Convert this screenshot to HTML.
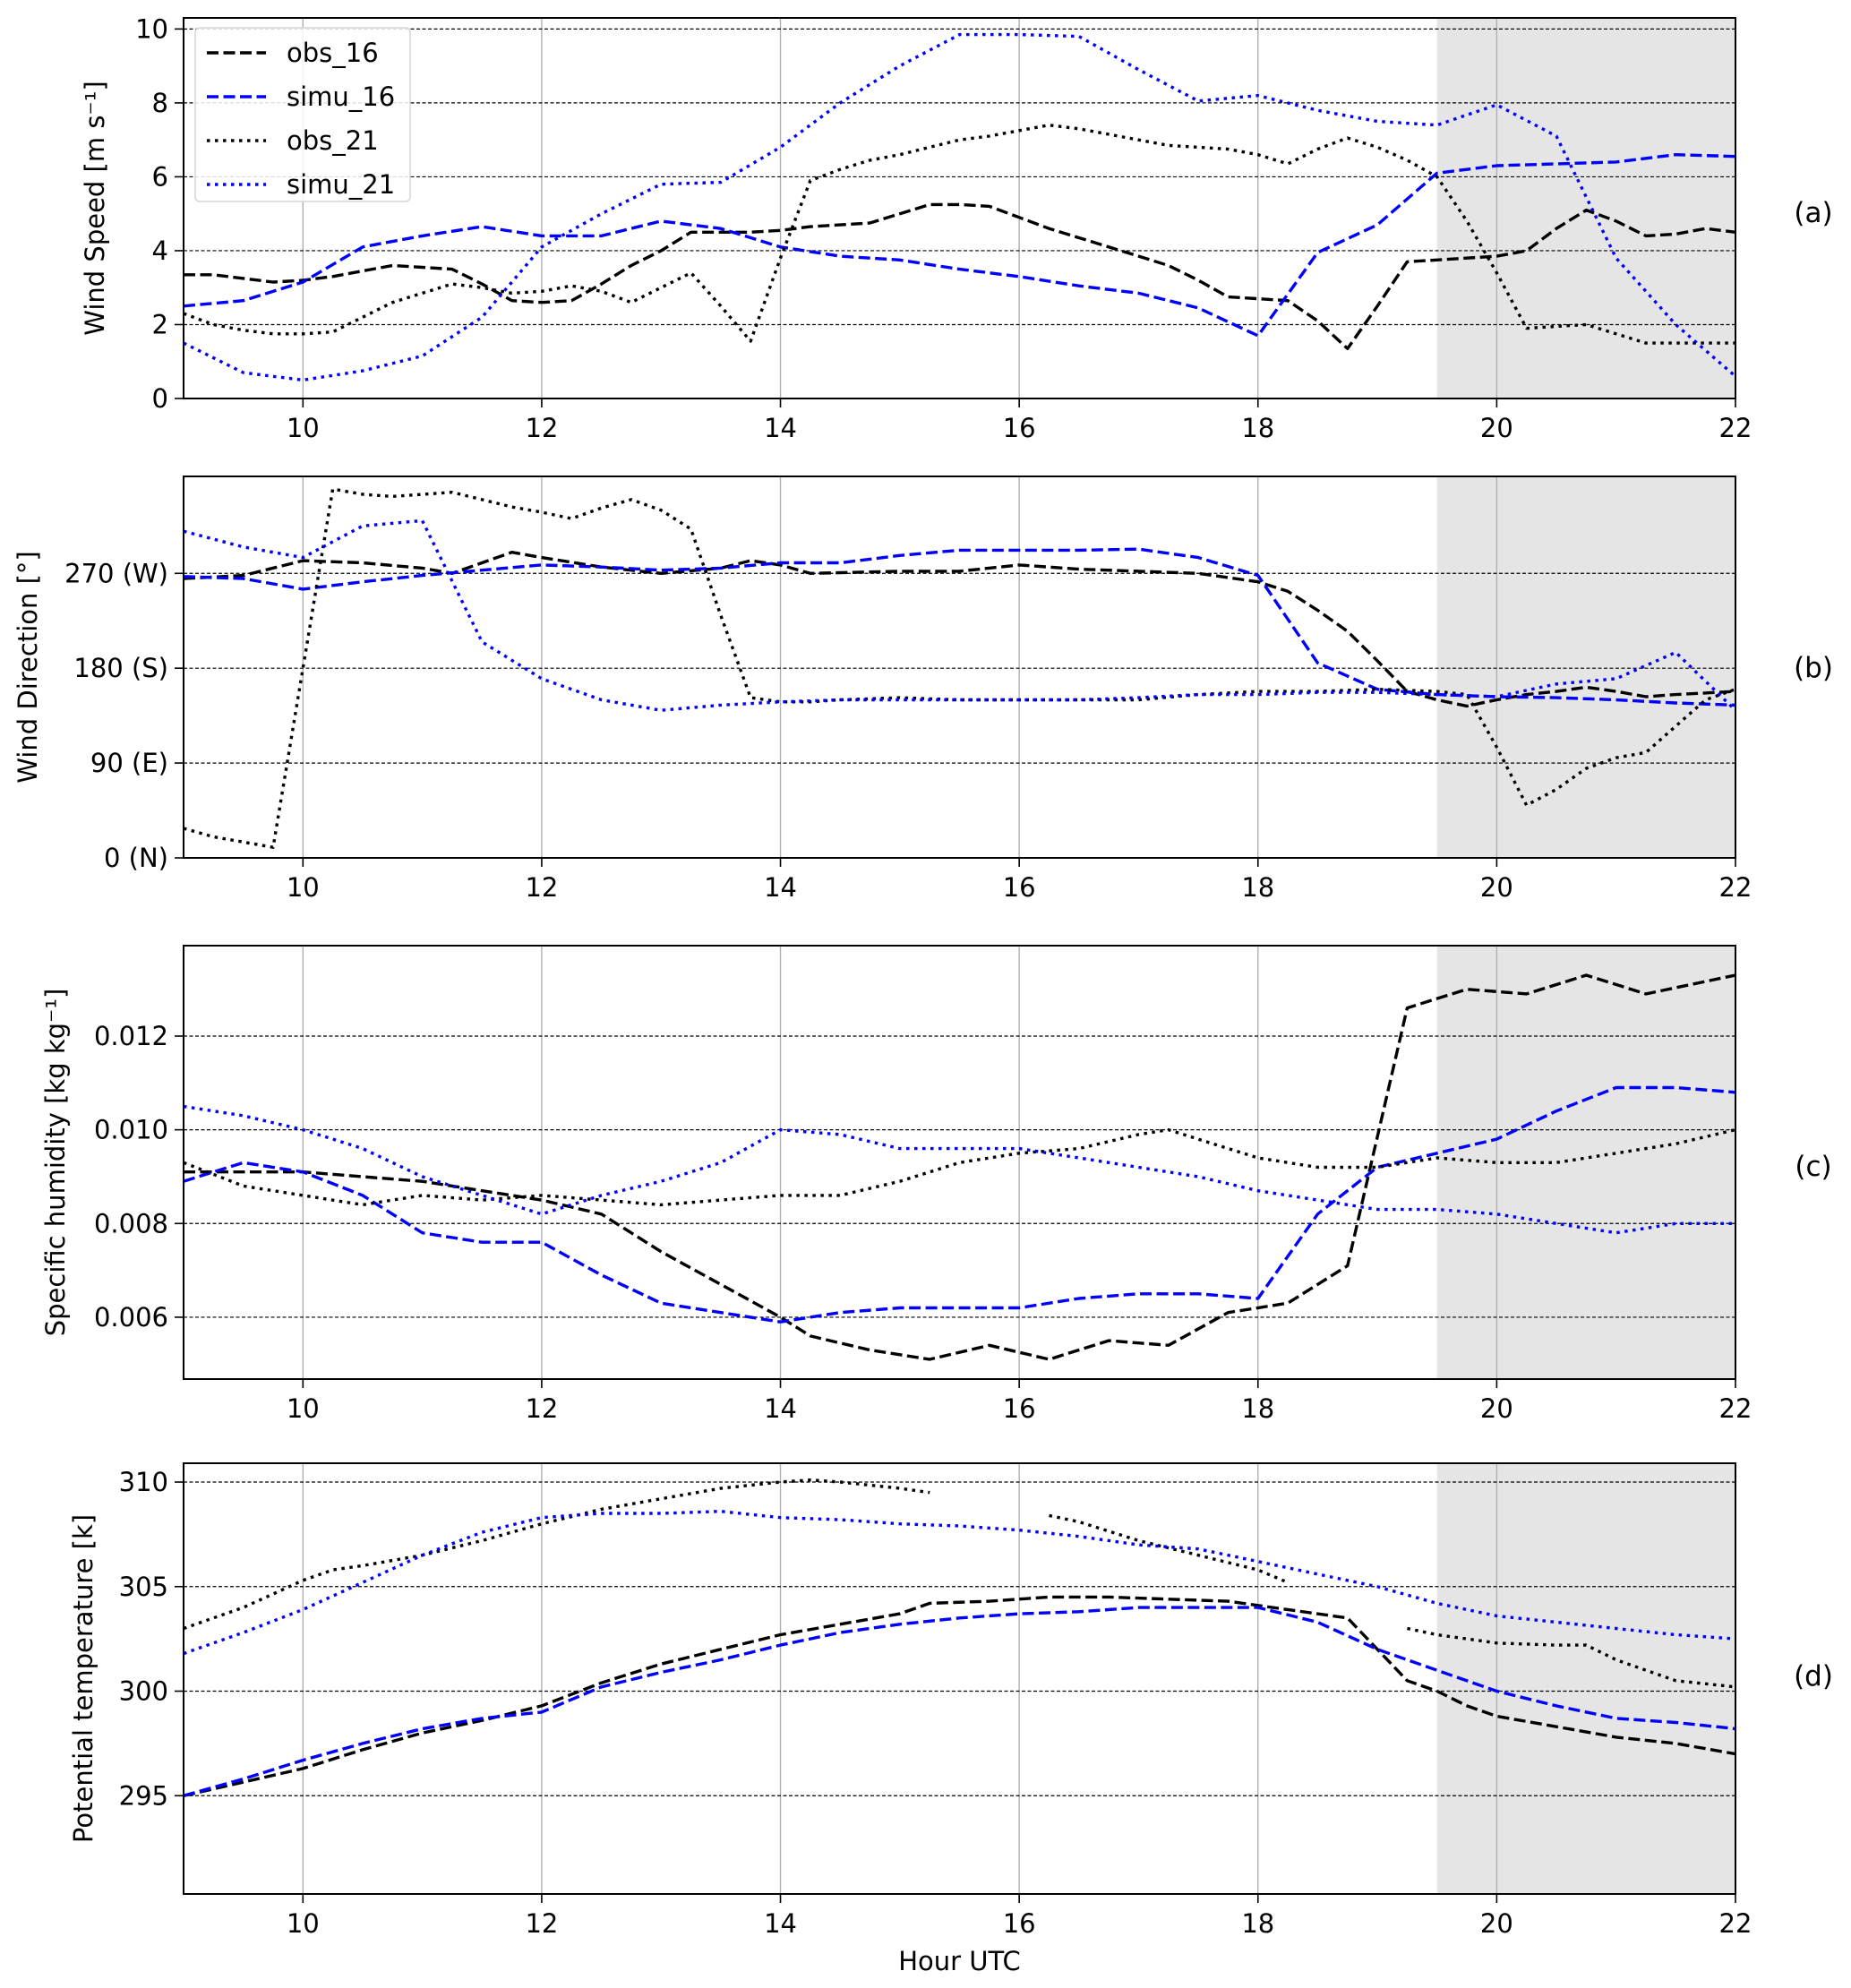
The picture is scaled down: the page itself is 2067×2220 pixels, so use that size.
<!DOCTYPE html>
<html><head><meta charset="utf-8"><style>
html,body{margin:0;padding:0;background:#fff;}
svg{display:block;font-family:"DejaVu Sans","Liberation Sans",sans-serif;}
</style></head><body>
<svg id="chart" width="2067" height="2220" viewBox="0 0 2067 2220" xmlns="http://www.w3.org/2000/svg"></svg>
<script>
// ---- data ----
const hourTicks = [10,12,14,16,18,20,22];
const nightStart = 19.5;
// Panel (a) wind speed
const aObs16T = [9,9.25,9.5,9.75,10,10.25,10.5,10.75,11,11.25,11.5,11.75,12,12.25,12.5,12.75,13,13.25,13.5,13.75,14,14.25,14.5,14.75,15,15.25,15.5,15.75,16,16.25,16.5,16.75,17,17.25,17.5,17.75,18,18.25,18.5,18.75,19,19.25,19.5,19.75,20,20.25,20.5,20.75,21,21.25,21.5,21.75,22];
const aObs16V = [3.35,3.35,3.25,3.15,3.2,3.3,3.45,3.6,3.55,3.5,3.1,2.65,2.6,2.65,3.1,3.6,4.0,4.5,4.5,4.5,4.55,4.65,4.7,4.75,5.0,5.25,5.25,5.2,4.9,4.6,4.35,4.1,3.85,3.6,3.2,2.75,2.7,2.65,2.1,1.35,2.5,3.7,3.75,3.8,3.85,4.0,4.6,5.1,4.8,4.4,4.45,4.6,4.5];
const aSimu16T = [9,9.5,10,10.5,11,11.5,12,12.5,13,13.5,14,14.5,15,15.5,16,16.5,17,17.5,18,18.5,19,19.5,20,20.5,21,21.5,22];
const aSimu16V = [2.5,2.65,3.15,4.1,4.4,4.65,4.4,4.4,4.8,4.6,4.1,3.85,3.75,3.5,3.3,3.05,2.85,2.45,1.7,3.95,4.7,6.1,6.3,6.35,6.4,6.6,6.55];
const aObs21T = aObs16T;
const aObs21V = [2.3,2.0,1.85,1.75,1.75,1.8,2.2,2.6,2.85,3.1,3.0,2.85,2.9,3.05,2.9,2.6,3.0,3.4,2.5,1.55,3.8,5.9,6.2,6.45,6.6,6.8,7.0,7.1,7.25,7.4,7.3,7.15,7.0,6.85,6.8,6.75,6.6,6.35,6.75,7.05,6.8,6.45,6.0,4.8,3.4,1.9,1.95,2.0,1.75,1.5,1.5,1.5,1.5];
const aSimu21T = aSimu16T;
const aSimu21V = [1.5,0.7,0.5,0.75,1.15,2.2,4.1,5.0,5.8,5.85,6.8,8.0,9.0,9.85,9.85,9.8,8.9,8.05,8.2,7.8,7.5,7.4,7.95,7.1,3.8,2.0,0.6];
// Panel (b) wind direction
const bObs16T = [9,9.5,10,10.5,11,11.25,11.5,11.75,12,12.5,13,13.5,13.75,14,14.25,15,15.5,16,16.5,17,17.5,18,18.25,18.5,18.75,19,19.25,19.5,19.75,20,20.25,20.5,20.75,21,21.25,21.5,22];
const bObs16V = [265,268,282,280,275,270,280,290,285,276,270,275,282,278,270,272,272,278,274,272,270,262,253,235,215,187,158,150,144,150,155,158,162,158,153,155,158];
const bSimu16T = aSimu16T;
const bSimu16V = [267,265,255,262,268,273,278,276,273,275,280,280,287,292,292,292,293,285,268,185,160,155,153,152,150,147,145];
const bObs21T = [9,9.25,9.5,9.75,10,10.25,10.5,10.75,11,11.25,11.5,11.75,12,12.25,12.5,12.75,13,13.25,13.5,13.75,14,14.25,14.5,15,15.5,16,16.5,17,17.5,18,18.5,19,19.5,19.75,20,20.25,20.5,20.75,21,21.25,21.5,21.75,22];
const bObs21V = [28,20,15,10,180,350,345,343,345,347,340,333,328,322,332,340,330,312,230,152,148,148,150,152,150,150,150,150,155,158,158,160,158,155,105,50,65,85,95,100,125,150,160];
const bSimu21T = aSimu16T;
const bSimu21V = [310,295,285,315,320,205,170,150,140,145,148,150,150,150,150,150,152,155,155,157,157,155,153,165,170,195,140];
// Panel (c) specific humidity
const cObs16T = [9,10,10.5,11,11.5,12,12.5,12.75,13,13.5,14,14.25,14.75,15.25,15.75,16.25,16.75,17.25,17.75,18.25,18.75,19.25,19.75,20.25,20.75,21.25,22];
const cObs16V = [0.0091,0.0091,0.0090,0.0089,0.0087,0.0085,0.0082,0.0078,0.0074,0.0067,0.0060,0.0056,0.0053,0.0051,0.0054,0.0051,0.0055,0.0054,0.0061,0.0063,0.0071,0.0126,0.0130,0.0129,0.0133,0.0129,0.0133];
const cSimu16T = aSimu16T;
const cSimu16V = [0.0089,0.0093,0.0091,0.0086,0.0078,0.0076,0.0076,0.0069,0.0063,0.0061,0.0059,0.0061,0.0062,0.0062,0.0062,0.0064,0.0065,0.0065,0.0064,0.0082,0.0092,0.0095,0.0098,0.0104,0.0109,0.0109,0.0108];
const cObs21T = [9,9.5,10,10.5,11,11.5,12,12.5,13,13.5,14,14.5,15,15.5,16,16.5,17,17.25,17.5,18,18.5,19,19.5,20,20.5,21,21.5,22];
const cObs21V = [0.0093,0.0088,0.0086,0.0084,0.0086,0.0085,0.0086,0.0085,0.0084,0.0085,0.0086,0.0086,0.0089,0.0093,0.0095,0.0096,0.0099,0.0100,0.0098,0.0094,0.0092,0.0092,0.0094,0.0093,0.0093,0.0095,0.0097,0.0100];
const cSimu21T = aSimu16T;
const cSimu21V = [0.0105,0.0103,0.0100,0.0096,0.0090,0.0086,0.0082,0.0086,0.0089,0.0093,0.0100,0.0099,0.0096,0.0096,0.0096,0.0094,0.0092,0.0090,0.0087,0.0085,0.0083,0.0083,0.0082,0.0080,0.0078,0.0080,0.0080];
// Panel (d) potential temperature
const dObs16T = [9,10,10.5,11,11.5,12,12.5,13,13.5,14,14.5,15,15.25,15.75,16.25,16.75,17.25,17.75,18,18.75,19.25,19.5,19.75,20,20.5,21,21.5,22];
const dObs16V = [295.0,296.3,297.2,298.0,298.6,299.3,300.4,301.3,302.0,302.7,303.2,303.7,304.2,304.3,304.5,304.5,304.4,304.3,304.1,303.5,300.5,300.0,299.3,298.8,298.3,297.8,297.5,297.0];
const dSimu16T = aSimu16T;
const dSimu16V = [295.0,295.8,296.7,297.5,298.2,298.7,299.0,300.2,300.9,301.5,302.2,302.8,303.2,303.5,303.7,303.8,304.0,304.0,304.0,303.3,302.0,301.0,300.0,299.3,298.7,298.5,298.2];
const dObs21T = [9,9.5,10,10.25,10.5,11,11.5,12,12.5,13,13.5,14,14.25,14.5,15,15.25,15.5,16.25,16.5,17,17.5,18,18.25,18.5,19.25,19.5,20,20.5,20.75,21,21.5,22];
const dObs21V = [303.0,304.0,305.3,305.8,306.0,306.5,307.2,308.0,308.7,309.2,309.7,310.0,310.1,310.0,309.7,309.5,null,308.4,308.1,307.2,306.5,305.8,305.2,null,303.0,302.7,302.3,302.2,302.2,301.5,300.5,300.2];
const dSimu21T = aSimu16T;
const dSimu21V = [301.8,302.8,303.9,305.2,306.5,307.6,308.3,308.5,308.5,308.6,308.3,308.2,308.0,307.9,307.7,307.4,307.0,306.8,306.2,305.6,305.0,304.2,303.6,303.3,303.0,302.7,302.5];
// tick labels
const aTickVals = [0,2,4,6,8,10];
const aTickLabels = ["0","2","4","6","8","10"];
const bTickVals = [0,90,180,270];
const bTickLabels = ["0 (N)","90 (E)","180 (S)","270 (W)"];
const cTickVals = [0.006,0.008,0.010,0.012];
const cTickLabels = ["0.006","0.008","0.010","0.012"];
const dTickVals = [295,300,305,310];
const dTickLabels = ["295","300","305","310"];

// ---- layout ----
const NS = "http://www.w3.org/2000/svg";
const svg = document.getElementById("chart");
const X0 = 205, X1 = 1938, XMIN = 9, XMAX = 22;
function xs(t){ return X0 + (t - XMIN) / (XMAX - XMIN) * (X1 - X0); }
function mk(tag, attrs, parent){
  const e = document.createElementNS(NS, tag);
  for (const k in attrs) e.setAttribute(k, attrs[k]);
  (parent || svg).appendChild(e);
  return e;
}
const styles = {
  obs16: {color:"#000", dash:"13 5.5"},
  simu16: {color:"#0000ff", dash:"13 5.5"},
  obs21: {color:"#000", dash:"3.5 5.5"},
  simu21: {color:"#0000ff", dash:"3.5 5.5"}
};
const panels = [
  {id:"a", top:20, bottom:445, ymin:0, ymax:10.3, tv:aTickVals, tl:aTickLabels, ylabel:"Wind Speed [m s\u207B\u00B9]", ylx:116, lab:"(a)", laby:238,
   series:[["obs16",aObs16T,aObs16V],["simu16",aSimu16T,aSimu16V],["obs21",aObs21T,aObs21V],["simu21",aSimu21T,aSimu21V]]},
  {id:"b", top:532, bottom:958, ymin:0, ymax:362, tv:bTickVals, tl:bTickLabels, ylabel:"Wind Direction [\u00B0]", ylx:41, lab:"(b)", laby:746,
   series:[["obs16",bObs16T,bObs16V],["simu16",bSimu16T,bSimu16V],["obs21",bObs21T,bObs21V],["simu21",bSimu21T,bSimu21V]]},
  {id:"c", top:1056, bottom:1540, ymin:0.00468, ymax:0.01393, tv:cTickVals, tl:cTickLabels, ylabel:"Specific humidity [kg kg\u207B\u00B9]", ylx:72, lab:"(c)", laby:1303,
   series:[["obs16",cObs16T,cObs16V],["simu16",cSimu16T,cSimu16V],["obs21",cObs21T,cObs21V],["simu21",cSimu21T,cSimu21V]]},
  {id:"d", top:1634, bottom:2115, ymin:290.3, ymax:310.9, tv:dTickVals, tl:dTickLabels, ylabel:"Potential temperature [k]", ylx:103, lab:"(d)", laby:1872,
   series:[["obs16",dObs16T,dObs16V],["simu16",dSimu16T,dSimu16V],["obs21",dObs21T,dObs21V],["simu21",dSimu21T,dSimu21V]]}
];

panels.forEach(p => {
  const g = mk("g", {});
  
  
  const ys = v => p.bottom - (v - p.ymin) / (p.ymax - p.ymin) * (p.bottom - p.top);
  const sh = mk("rect", {x:xs(nightStart), y:p.top, width:X1 - xs(nightStart), height:p.bottom - p.top, fill:"#e5e5e5"}, g);
  
  
  hourTicks.forEach(h => {
    const l = mk("line", {x1:xs(h), x2:xs(h), y1:p.top, y2:p.bottom, stroke:"#b0b0b0", "stroke-width":1.4}, g);
    
    
    mk("line", {x1:xs(h), x2:xs(h), y1:p.bottom, y2:p.bottom + 10, stroke:"#000", "stroke-width":1.6}, g);
    const t = mk("text", {x:xs(h), y:p.bottom + 43, "text-anchor":"middle", "font-size":29, fill:"#000"}, g);
    t.textContent = String(h);
    
    
  });
  p.tv.forEach((v, i) => {
    const y = ys(v);
    const l = mk("line", {x1:X0, x2:X1, y1:y, y2:y, stroke:"#000", "stroke-width":1.2, "stroke-dasharray":"4 2.5"}, g);
    
    
    mk("line", {x1:X0 - 10, x2:X0, y1:y, y2:y, stroke:"#000", "stroke-width":1.6}, g);
    const t = mk("text", {x:X0 - 17, y:y + 10, "text-anchor":"end", "font-size":29, fill:"#000"}, g);
    t.textContent = p.tl[i];
    
    
  });
  const cp = mk("clipPath", {id:"clip" + p.id}, g);
  mk("rect", {x:X0, y:p.top, width:X1 - X0, height:p.bottom - p.top}, cp);
  p.series.forEach(s => {
    const st = styles[s[0]], T = s[1], V = s[2];
    let d = "", pen = false;
    for (let i = 0; i < T.length; i++) {
      if (V[i] === null) { pen = false; continue; }
      d += (pen ? "L" : "M") + xs(T[i]).toFixed(1) + "," + ys(V[i]).toFixed(1);
      pen = true;
    }
    const path = mk("path", {d:d, fill:"none", stroke:st.color, "stroke-width":3.4, "stroke-dasharray":st.dash, "stroke-linejoin":"round", "clip-path":"url(#clip" + p.id + ")"}, g);
    
    
  });
  const fr = mk("rect", {x:X0, y:p.top, width:X1 - X0, height:p.bottom - p.top, fill:"none", stroke:"#000", "stroke-width":2}, g);
  
  
  const cy = (p.top + p.bottom) / 2;
  const yl = mk("text", {x:p.ylx, y:cy, "text-anchor":"middle", "font-size":29, fill:"#000", transform:"rotate(-90 " + p.ylx + " " + cy + ")"}, g);
  yl.textContent = p.ylabel;
  
  
  const pl = mk("text", {x:2025, y:p.laby + 10, "text-anchor":"middle", "font-size":31, fill:"#000"}, g);
  pl.textContent = p.lab;
  
  
});

const xt = mk("text", {x:(X0 + X1) / 2, y:2200, "text-anchor":"middle", "font-size":29, fill:"#000"});
xt.textContent = "Hour UTC";



const lg = mk("g", {});


mk("rect", {x:218, y:31, width:240, height:194, rx:5, fill:"#fff", "fill-opacity":0.85, stroke:"#d6d6d6", "stroke-width":1.5}, lg);
const legendKeys = ["obs16","simu16","obs21","simu21"];
const legendNames = ["obs_16","simu_16","obs_21","simu_21"];
legendKeys.forEach((k, i) => {
  const y = 59 + i * 49;
  const ent = mk("g", {}, lg);
  
  
  mk("line", {x1:231, x2:297, y1:y, y2:y, stroke:styles[k].color, "stroke-width":3.4, "stroke-dasharray":styles[k].dash}, ent);
  const t = mk("text", {x:320, y:y + 10, "font-size":29, fill:"#000"}, ent);
  t.textContent = legendNames[i];
});
</script>
</body></html>
